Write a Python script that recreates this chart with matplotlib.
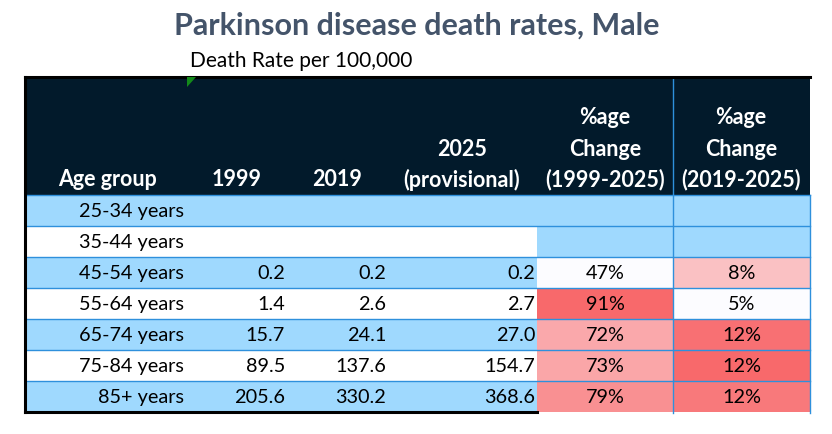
import numpy as np
import matplotlib
matplotlib.use('Agg')
import matplotlib.pyplot as plt
from matplotlib.patches import Rectangle, Polygon
from matplotlib.colors import LinearSegmentedColormap, Normalize

plt.rcParams['font.family'] = ['Lato', 'DejaVu Sans']

# table data
age_groups = ['25-34 years', '35-44 years', '45-54 years', '55-64 years',
              '65-74 years', '75-84 years', '85+ years']
rate_1999 = [None, None, 0.2, 1.4, 15.7, 89.5, 205.6]
rate_2019 = [None, None, 0.2, 2.6, 24.1, 137.6, 330.2]
rate_2025 = [None, None, 0.2, 2.7, 27.0, 154.7, 368.6]
pct_1999_2025 = [None, None, 47.0, 91.0, 72.0, 72.8, 79.3]
pct_2019_2025 = [None, None, 8.0, 5.0, 12.0, 12.4, 11.6]

title = 'Parkinson disease death rates, Male'
subtitle = 'Death Rate per 100,000'

navy = '#021a2b'
light_blue = '#9fd9fe'
grid_blue = '#2e90dc'
cmap = LinearSegmentedColormap.from_list('wr', ['#fcfcff', '#f8696b'])

W, H = 832, 434
fig = plt.figure(figsize=(W / 100, H / 100), dpi=100)
ax = fig.add_axes([0, 0, 1, 1])
ax.set_xlim(0, W)
ax.set_ylim(H, 0)
ax.axis('off')

# column edges (pixels)
left, c4, c5, right = 25, 537, 673, 810
head_top, head_bot = 77, 195
row_h = 31

ax.text(417, 26, title, ha='center', va='center', fontsize=22,
        fontweight='bold', color='#44546a')
ax.text(190, 61, subtitle, ha='left', va='center', fontsize=15, color='black')

# header block
ax.add_patch(Rectangle((left, head_top), right - left, head_bot - head_top,
                       facecolor=navy, edgecolor='none'))
ax.plot([c5, c5], [head_top, head_bot], color=grid_blue, lw=1)

hdr_kw = dict(ha='center', va='center', fontsize=15.5, fontweight='bold', color='white')
y1, y2, y3 = 118, 149, 180
ax.text(107, y3, 'Age group', **hdr_kw)
ax.text(237, y3, '1999', **hdr_kw)
ax.text(337, y3, '2019', **hdr_kw)
ax.text(462, y2, '2025', **hdr_kw)
ax.text(462, y3, '(provisional)', **hdr_kw)
for cx, rng in [(605, '(1999-2025)'), (741, '(2019-2025)')]:
    ax.text(cx, y1, '%age', **hdr_kw)
    ax.text(cx, y2, 'Change', **hdr_kw)
    ax.text(cx, y3, rng, **hdr_kw)

norm1 = Normalize(min(v for v in pct_1999_2025 if v is not None),
                  max(v for v in pct_1999_2025 if v is not None))
norm2 = Normalize(min(v for v in pct_2019_2025 if v is not None),
                  max(v for v in pct_2019_2025 if v is not None))

txt_kw = dict(va='center', fontsize=14.3, color='black')
for i, age in enumerate(age_groups):
    top = head_bot + i * row_h
    yc = top + row_h / 2 + 1
    base = light_blue if i % 2 == 0 else 'white'
    ax.add_patch(Rectangle((left, top), c4 - left, row_h, facecolor=base,
                           edgecolor='none'))
    ax.text(184, yc, age, ha='right', **txt_kw)
    for val, xr in [(rate_1999[i], 285), (rate_2019[i], 386), (rate_2025[i], 535)]:
        if val is not None:
            ax.text(xr, yc, f'{val:.1f}', ha='right', **txt_kw)
    for val, norm, x0, x1 in [(pct_1999_2025[i], norm1, c4, c5),
                              (pct_2019_2025[i], norm2, c5, right)]:
        fc = light_blue if val is None else cmap(norm(val))
        ax.add_patch(Rectangle((x0, top), x1 - x0, row_h, facecolor=fc,
                               edgecolor='none'))
        if val is not None:
            ax.text((x0 + x1) / 2, yc, f'{val:.0f}%', ha='center', **txt_kw)

bottom = head_bot + len(age_groups) * row_h

# thin blue grid lines
for k in range(len(age_groups)):
    y = head_bot + k * row_h
    ax.plot([left, right], [y, y], color=grid_blue, lw=1)
for x in [c5, right]:
    ax.plot([x, x], [head_bot, bottom + 1], color=grid_blue, lw=1)

# outer black border
ax.plot([left, left], [head_top, bottom], color='black', lw=2.2)
ax.plot([left, right], [head_top, head_top], color='black', lw=2.2)
ax.plot([left, c4], [bottom, bottom], color='black', lw=2.2)

# comment marker
ax.add_patch(Polygon([(187, 77), (196, 77), (187, 87)], closed=True,
                     facecolor='#138a1a', edgecolor='none', zorder=5))

fig.savefig('out.png', dpi=100)
